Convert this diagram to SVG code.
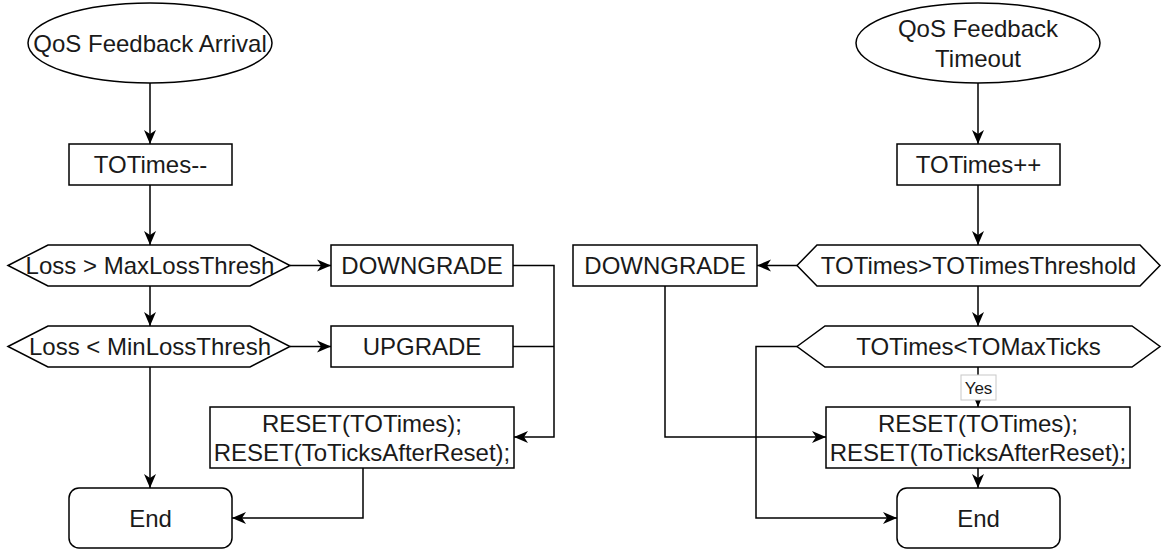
<svg xmlns="http://www.w3.org/2000/svg" width="1170" height="551" viewBox="0 0 1170 551">
<style>
.s{fill:#fff;stroke:#000;stroke-width:1.5}
.t{font-family:"Liberation Sans",Arial,sans-serif;font-size:24px;fill:#1a1a1a;text-anchor:middle}
.c{fill:none;stroke:#000;stroke-width:1.5}
.a{marker-end:url(#ar)}
</style>
<defs>
<marker id="ar" markerUnits="userSpaceOnUse" viewBox="0 0 14 13" refX="14" refY="6.5" markerWidth="14" markerHeight="13" orient="auto">
<path d="M0,0.5 L14,6.5 L0,12.5 L4,6.5 Z" fill="#000"/>
</marker>
</defs>
<rect width="1170" height="551" fill="#fff"/>
<g id="connectors">
<path class="c a" d="M150,83 V144"/>
<path class="c a" d="M150,185 V245"/>
<path class="c a" d="M290,265.5 H331"/>
<path class="c a" d="M150,286 V326"/>
<path class="c a" d="M290,346.5 H331"/>
<path class="c a" d="M150,367 V488"/>
<path class="c a" d="M513,265.5 H554 V437 H514"/>
<path class="c" d="M513,346.5 H554"/>
<path class="c a" d="M363,468 V518 H232"/>
<path class="c a" d="M978,83 V144"/>
<path class="c a" d="M978,185 V245"/>
<path class="c a" d="M797,265.5 H757"/>
<path class="c a" d="M978,286 V326"/>
<path class="c a" d="M978,367 V407"/>
<path class="c a" d="M665,286 V437 H826"/>
<path class="c a" d="M797,346.5 H756 V518 H897"/>
<path class="c a" d="M978,468 V488"/>
<g id="yes-label">
<rect x="961" y="375" width="35" height="25" fill="#fff" stroke="#c8c8c8" stroke-width="1"/>
<text x="978.5" y="393.5" font-family="Liberation Sans,Arial,sans-serif" font-size="17" text-anchor="middle" fill="#1a1a1a">Yes</text>
</g>
</g>
<g id="start-arrival">
<ellipse class="s" cx="150" cy="43" rx="122" ry="40"/>
<text class="t" x="150" y="51.5">QoS Feedback Arrival</text>
</g>
<g id="totimes-dec">
<rect class="s" x="69" y="144" width="163" height="41"/>
<text class="t" x="150.5" y="173">TOTimes--</text>
</g>
<g id="loss-max">
<polygon class="s" points="8,265.5 48,245 250,245 290,265.5 250,286 48,286"/>
<text class="t" x="150" y="274">Loss &gt; MaxLossThresh</text>
</g>
<g id="downgrade-left">
<rect class="s" x="331" y="245" width="182" height="41"/>
<text class="t" x="422" y="274">DOWNGRADE</text>
</g>
<g id="loss-min">
<polygon class="s" points="8,346.5 48,326 250,326 290,346.5 250,367 48,367"/>
<text class="t" x="150" y="355">Loss &lt; MinLossThresh</text>
</g>
<g id="upgrade">
<rect class="s" x="331" y="326" width="182" height="41"/>
<text class="t" x="422" y="355">UPGRADE</text>
</g>
<g id="reset-left">
<rect class="s" x="210" y="407" width="304" height="61"/>
<text class="t" x="362" y="432">RESET(TOTimes);</text>
<text class="t" x="362" y="461">RESET(ToTicksAfterReset);</text>
</g>
<g id="end-left">
<rect class="s" x="69" y="488" width="163" height="60" rx="10"/>
<text class="t" x="150.5" y="526.5">End</text>
</g>
<g id="start-timeout">
<ellipse class="s" cx="978" cy="43" rx="122" ry="40"/>
<text class="t" x="978" y="37">QoS Feedback</text>
<text class="t" x="978" y="67">Timeout</text>
</g>
<g id="totimes-inc">
<rect class="s" x="897" y="144" width="163" height="41"/>
<text class="t" x="978.5" y="173">TOTimes++</text>
</g>
<g id="downgrade-right">
<rect class="s" x="573" y="245" width="184" height="41"/>
<text class="t" x="665" y="274">DOWNGRADE</text>
</g>
<g id="totimes-threshold">
<polygon class="s" points="797,265.5 817,245 1140,245 1160,265.5 1140,286 817,286"/>
<text class="t" x="978.5" y="274">TOTimes&gt;TOTimesThreshold</text>
</g>
<g id="totimes-maxticks">
<polygon class="s" points="797,346.5 825,326 1132,326 1160,346.5 1132,367 825,367"/>
<text class="t" x="978.5" y="355">TOTimes&lt;TOMaxTicks</text>
</g>
<g id="reset-right">
<rect class="s" x="826" y="407" width="304" height="61"/>
<text class="t" x="978" y="432">RESET(TOTimes);</text>
<text class="t" x="978" y="461">RESET(ToTicksAfterReset);</text>
</g>
<g id="end-right">
<rect class="s" x="897" y="488" width="163" height="60" rx="10"/>
<text class="t" x="978.5" y="526.5">End</text>
</g>
</svg>
